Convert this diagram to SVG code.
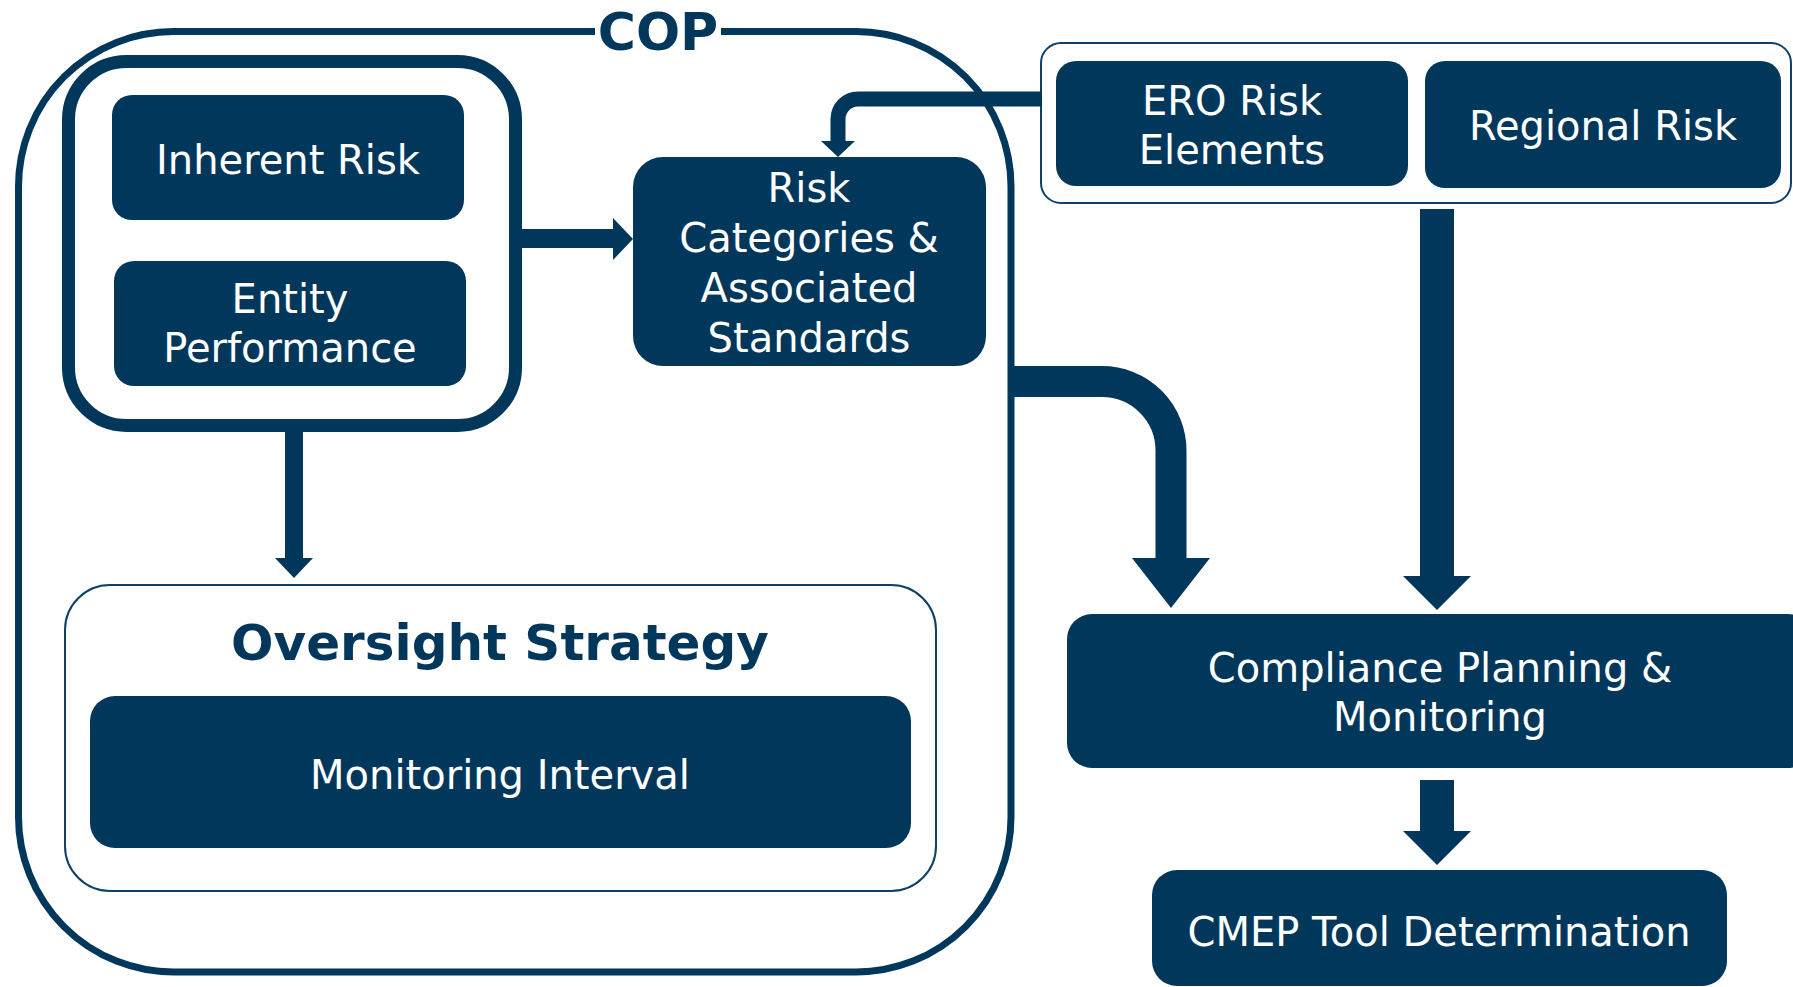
<svg xmlns="http://www.w3.org/2000/svg" width="1793" height="987" viewBox="0 0 1793 987">
<style>
.box{fill:#02375c}
.thin{fill:#ffffff;stroke:#0d4168;stroke-width:2}
.lbl{font-family:"DejaVu Sans",Verdana,sans-serif;font-size:40px;fill:#ffffff;text-anchor:middle}
.ttl{font-family:"DejaVu Sans",Verdana,sans-serif;font-weight:bold;fill:#02375c;text-anchor:middle}
.arr{fill:#02375c}
.line{fill:none;stroke:#02375c}
</style>
<rect width="1793" height="987" fill="#ffffff"/>
<g id="cop">
<rect x="18.5" y="31.5" width="992.5" height="940.5" rx="155" ry="155" fill="none" stroke="#02375c" stroke-width="7"/>
<rect x="595" y="8" width="126" height="50" fill="#ffffff"/>
<text class="ttl" x="658" y="50" font-size="52">COP</text>
</g>
<g id="risk-group">
<rect x="68.5" y="61.5" width="447" height="364" rx="58" ry="58" fill="#ffffff" stroke="#02375c" stroke-width="13"/>
</g>
<g id="inherent-risk">
<rect class="box" x="112" y="95" width="352" height="125" rx="20"/>
<text class="lbl" x="288" y="174">Inherent Risk</text>
</g>
<g id="entity-performance">
<rect class="box" x="114" y="261" width="352" height="125" rx="20"/>
<text class="lbl" x="290" y="313">Entity</text>
<text class="lbl" x="290" y="362">Performance</text>
</g>
<g id="risk-categories">
<rect class="box" x="633" y="157" width="353" height="209" rx="30"/>
<text class="lbl" x="809" y="202">Risk</text>
<text class="lbl" x="809" y="252">Categories &amp;</text>
<text class="lbl" x="809" y="302">Associated</text>
<text class="lbl" x="809" y="352">Standards</text>
</g>
<g id="ero-group">
<rect class="thin" x="1041" y="43" width="750" height="160" rx="20"/>
</g>
<g id="ero-risk-elements">
<rect class="box" x="1056" y="61" width="352" height="125" rx="20"/>
<text class="lbl" x="1232" y="115">ERO Risk</text>
<text class="lbl" x="1232" y="164">Elements</text>
</g>
<g id="regional-risk">
<rect class="box" x="1425" y="61" width="356" height="127" rx="20"/>
<text class="lbl" x="1603" y="140">Regional Risk</text>
</g>
<g id="oversight-strategy">
<rect class="thin" x="65" y="585" width="871" height="306" rx="45"/>
<text class="ttl" x="500" y="660" font-size="50">Oversight Strategy</text>
</g>
<g id="monitoring-interval">
<rect class="box" x="90" y="696" width="821" height="152" rx="25"/>
<text class="lbl" x="500" y="789">Monitoring Interval</text>
</g>
<g id="compliance-planning">
<rect class="box" x="1067" y="614" width="746" height="154" rx="25"/>
<text class="lbl" x="1440" y="682">Compliance Planning &amp;</text>
<text class="lbl" x="1440" y="731">Monitoring</text>
</g>
<g id="cmep-tool">
<rect class="box" x="1152" y="870" width="575" height="116" rx="25"/>
<text class="lbl" x="1439" y="946">CMEP Tool Determination</text>
</g>
<g id="connectors">
<rect class="arr" x="520" y="229" width="95" height="19"/>
<polygon class="arr" points="613,218 633,239 613,260"/>
<rect class="arr" x="285" y="430" width="18" height="130"/>
<polygon class="arr" points="275,558 313,558 294,578"/>
<path class="line" d="M1042,99 H858 A20,20 0 0 0 838,119 V143" stroke-width="15"/>
<polygon class="arr" points="821,141 855,141 838,157"/>
<path class="line" d="M1012,381.5 H1102 A69,69 0 0 1 1171,450.5 V560" stroke-width="31"/>
<polygon class="arr" points="1132,558 1210,558 1171,608"/>
<rect class="arr" x="1420" y="209" width="34" height="369"/>
<polygon class="arr" points="1403,576 1471,576 1437,610"/>
<rect class="arr" x="1420" y="780" width="34" height="53"/>
<polygon class="arr" points="1403,831 1471,831 1437,865"/>
</g>
</svg>
